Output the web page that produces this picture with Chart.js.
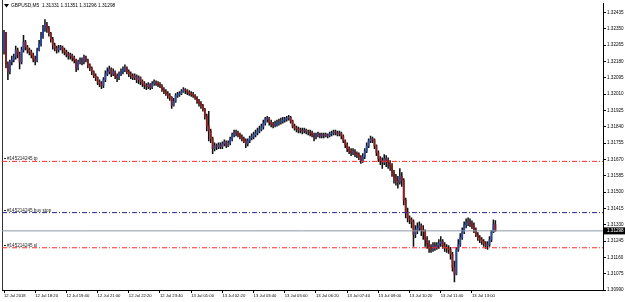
<!DOCTYPE html>
<html>
<head>
<meta charset="utf-8">
<script src="https://cdn.jsdelivr.net/npm/chart.js@4.4.1/dist/chart.umd.min.js"></script>
<style>
  html, body { margin: 0; padding: 0; background: #fff; }
  #chart { display: block; }
</style>
</head>
<body>
<canvas id="chart" width="625" height="302"></canvas>
<script>
// GBPUSD M5, 12 Jul 17:00 -> 13 Jul 14:00
const symbolName = 'GBPUSD,M5';
const lastQuote = ['1.31331', '1.31351', '1.31296', '1.31298'];
const firstOpen = 1.32229;

const closes = [
  1.32332,1.32168,1.32127,1.32178,1.32188,1.32204,1.32240,1.32219,1.32178,1.32240,
  1.32281,1.32255,1.32240,1.32229,1.32214,1.32193,1.32183,1.32240,1.32271,1.32312,
  1.32348,1.32373,1.32353,1.32327,1.32296,1.32265,1.32250,1.32240,1.32250,1.32255,
  1.32240,1.32229,1.32219,1.32209,1.32214,1.32199,1.32188,1.32147,1.32178,1.32188,
  1.32178,1.32204,1.32188,1.32163,1.32147,1.32127,1.32106,1.32096,1.32075,1.32065,
  1.32055,1.32085,1.32116,1.32127,1.32142,1.32116,1.32127,1.32106,1.32096,1.32116,
  1.32127,1.32137,1.32147,1.32127,1.32116,1.32106,1.32096,1.32106,1.32085,1.32096,
  1.32075,1.32065,1.32055,1.32049,1.32060,1.32044,1.32065,1.32075,1.32065,1.32060,
  1.32055,1.32034,1.32024,1.32013,1.32003,1.31993,1.31952,1.31972,1.32003,1.32008,
  1.32013,1.32024,1.32034,1.32029,1.32019,1.32013,1.32008,1.32003,1.31993,1.31972,
  1.31962,1.31952,1.31931,1.31895,1.31844,1.31818,1.31777,1.31726,1.31741,1.31736,
  1.31746,1.31736,1.31751,1.31762,1.31741,1.31757,1.31777,1.31798,1.31813,1.31808,
  1.31798,1.31787,1.31777,1.31767,1.31751,1.31767,1.31782,1.31787,1.31798,1.31808,
  1.31818,1.31828,1.31839,1.31859,1.31880,1.31885,1.31864,1.31854,1.31849,1.31854,
  1.31859,1.31864,1.31870,1.31875,1.31880,1.31885,1.31890,1.31870,1.31844,1.31834,
  1.31828,1.31823,1.31823,1.31818,1.31823,1.31813,1.31813,1.31808,1.31798,1.31787,
  1.31798,1.31803,1.31792,1.31798,1.31792,1.31798,1.31792,1.31803,1.31808,1.31813,
  1.31808,1.31803,1.31808,1.31792,1.31767,1.31746,1.31726,1.31715,1.31705,1.31710,
  1.31700,1.31695,1.31685,1.31664,1.31685,1.31715,1.31741,1.31767,1.31777,1.31772,
  1.31741,1.31705,1.31674,1.31664,1.31654,1.31674,1.31664,1.31654,1.31638,1.31602,
  1.31571,1.31561,1.31551,1.31582,1.31561,1.31458,1.31397,1.31366,1.31356,1.31345,
  1.31279,1.31304,1.31314,1.31325,1.31304,1.31294,1.31253,1.31232,1.31212,1.31201,
  1.31222,1.31212,1.31222,1.31232,1.31242,1.31222,1.31212,1.31207,1.31201,1.31176,
  1.31109,1.31073,1.31201,1.31227,1.31263,1.31294,1.31330,1.31340,1.31345,1.31335,
  1.31325,1.31304,1.31279,1.31263,1.31253,1.31242,1.31232,1.31222,1.31227,1.31253,
  1.31294,1.31331,1.31298
];

const highs = [
  1.32342,1.32332,1.32178,1.32188,1.32209,1.32219,1.32260,1.32250,1.32229,1.32255,
  1.32317,1.32291,1.32265,1.32250,1.32240,1.32224,1.32209,1.32250,1.32291,1.32332,
  1.32368,1.32399,1.32384,1.32363,1.32332,1.32306,1.32276,1.32260,1.32265,1.32265,
  1.32260,1.32250,1.32240,1.32229,1.32224,1.32219,1.32209,1.32193,1.32188,1.32199,
  1.32199,1.32214,1.32209,1.32193,1.32168,1.32152,1.32132,1.32116,1.32101,1.32085,
  1.32075,1.32096,1.32132,1.32147,1.32157,1.32147,1.32142,1.32132,1.32116,1.32127,
  1.32142,1.32152,1.32163,1.32152,1.32137,1.32127,1.32116,1.32116,1.32111,1.32106,
  1.32101,1.32085,1.32075,1.32065,1.32070,1.32065,1.32075,1.32085,1.32080,1.32075,
  1.32070,1.32060,1.32044,1.32034,1.32024,1.32013,1.31998,1.31988,1.32013,1.32019,
  1.32024,1.32034,1.32044,1.32039,1.32034,1.32029,1.32024,1.32019,1.32008,1.31998,
  1.31983,1.31972,1.31957,1.31936,1.31906,1.31921,1.31828,1.31787,1.31757,1.31751,
  1.31757,1.31757,1.31762,1.31772,1.31767,1.31767,1.31787,1.31808,1.31823,1.31823,
  1.31818,1.31808,1.31798,1.31787,1.31777,1.31777,1.31792,1.31803,1.31813,1.31823,
  1.31834,1.31844,1.31854,1.31875,1.31890,1.31895,1.31890,1.31875,1.31864,1.31870,
  1.31875,1.31880,1.31885,1.31890,1.31890,1.31895,1.31900,1.31895,1.31875,1.31854,
  1.31844,1.31839,1.31834,1.31834,1.31834,1.31828,1.31823,1.31823,1.31818,1.31808,
  1.31808,1.31813,1.31808,1.31808,1.31808,1.31808,1.31803,1.31813,1.31818,1.31823,
  1.31823,1.31818,1.31818,1.31813,1.31798,1.31772,1.31757,1.31736,1.31726,1.31726,
  1.31721,1.31710,1.31705,1.31690,1.31700,1.31726,1.31757,1.31777,1.31792,1.31787,
  1.31777,1.31746,1.31715,1.31685,1.31679,1.31695,1.31690,1.31679,1.31664,1.31649,
  1.31613,1.31592,1.31582,1.31623,1.31602,1.31571,1.31469,1.31417,1.31376,1.31366,
  1.31356,1.31325,1.31340,1.31345,1.31335,1.31325,1.31304,1.31268,1.31248,1.31227,
  1.31237,1.31237,1.31237,1.31253,1.31268,1.31253,1.31237,1.31227,1.31222,1.31212,
  1.31186,1.31140,1.31212,1.31253,1.31284,1.31314,1.31345,1.31361,1.31366,1.31361,
  1.31350,1.31340,1.31314,1.31289,1.31273,1.31263,1.31253,1.31242,1.31242,1.31268,
  1.31299,1.31356,1.31351
];

const lows = [
  1.32219,1.32147,1.32085,1.32116,1.32163,1.32178,1.32193,1.32199,1.32142,1.32168,
  1.32229,1.32240,1.32224,1.32214,1.32199,1.32178,1.32163,1.32178,1.32235,1.32260,
  1.32301,1.32337,1.32332,1.32312,1.32281,1.32245,1.32235,1.32224,1.32229,1.32240,
  1.32224,1.32214,1.32204,1.32193,1.32193,1.32183,1.32173,1.32127,1.32137,1.32168,
  1.32163,1.32168,1.32178,1.32147,1.32132,1.32111,1.32096,1.32080,1.32060,1.32049,
  1.32039,1.32044,1.32075,1.32106,1.32116,1.32101,1.32106,1.32091,1.32075,1.32085,
  1.32106,1.32116,1.32127,1.32116,1.32101,1.32091,1.32085,1.32085,1.32070,1.32065,
  1.32060,1.32049,1.32039,1.32034,1.32039,1.32034,1.32039,1.32055,1.32055,1.32049,
  1.32044,1.32024,1.32013,1.32003,1.31988,1.31978,1.31936,1.31947,1.31967,1.31993,
  1.31998,1.32008,1.32019,1.32013,1.32008,1.32003,1.31998,1.31993,1.31983,1.31962,
  1.31947,1.31936,1.31921,1.31880,1.31818,1.31767,1.31757,1.31700,1.31715,1.31721,
  1.31726,1.31726,1.31726,1.31741,1.31731,1.31736,1.31746,1.31767,1.31787,1.31792,
  1.31787,1.31777,1.31767,1.31757,1.31731,1.31741,1.31757,1.31772,1.31777,1.31787,
  1.31798,1.31808,1.31818,1.31828,1.31849,1.31864,1.31849,1.31839,1.31834,1.31839,
  1.31844,1.31849,1.31854,1.31859,1.31864,1.31870,1.31875,1.31859,1.31834,1.31823,
  1.31813,1.31808,1.31808,1.31803,1.31808,1.31803,1.31798,1.31792,1.31787,1.31767,
  1.31777,1.31787,1.31782,1.31782,1.31782,1.31787,1.31782,1.31787,1.31792,1.31798,
  1.31798,1.31792,1.31792,1.31777,1.31757,1.31731,1.31710,1.31700,1.31690,1.31695,
  1.31685,1.31679,1.31669,1.31649,1.31654,1.31674,1.31705,1.31731,1.31757,1.31757,
  1.31726,1.31690,1.31659,1.31643,1.31623,1.31643,1.31633,1.31623,1.31613,1.31582,
  1.31546,1.31536,1.31520,1.31541,1.31530,1.31433,1.31366,1.31345,1.31335,1.31314,
  1.31217,1.31263,1.31284,1.31299,1.31273,1.31253,1.31217,1.31207,1.31186,1.31186,
  1.31191,1.31196,1.31201,1.31207,1.31217,1.31207,1.31191,1.31186,1.31181,1.31150,
  1.31088,1.31032,1.31068,1.31191,1.31217,1.31253,1.31284,1.31314,1.31325,1.31320,
  1.31309,1.31289,1.31268,1.31248,1.31237,1.31227,1.31217,1.31207,1.31201,1.31217,
  1.31242,1.31289,1.31296
];

// one label every 16 bars (80 min)
const timeLabels = [
  '12 Jul 2018', '12 Jul 18:20', '12 Jul 19:40', '12 Jul 21:00', '12 Jul 22:20',
  '12 Jul 23:40', '13 Jul 01:00', '13 Jul 02:20', '13 Jul 03:40', '13 Jul 05:00',
  '13 Jul 06:20', '13 Jul 07:40', '13 Jul 09:00', '13 Jul 10:20', '13 Jul 11:40',
  '13 Jul 13:00'
];
const barsPerLabel = 16;

const priceTicks = [
  1.32435, 1.32350, 1.32265, 1.32180, 1.32095, 1.32010, 1.31925, 1.31840, 1.31755,
  1.31670, 1.31585, 1.31500, 1.31415, 1.31330, 1.31245, 1.31160, 1.31075, 1.30990
];

const orderNames = ['#145214245 tp', '#145214245 buy stop', '#145214245 sl'];
const orderPrices = [1.31660, 1.31393, 1.31210];
const orderColors = ['#ff2a2a', '#23238c', '#ff2a2a'];
const bidPrice = 1.31298;

const xMin = -1.03;
const xMax = 307.2;
const yMin = 1.30990;
const yMax = 1.32481;

const opens = closes.map((c, i) => (i === 0 ? firstOpen : closes[i - 1]));

const wickData = closes.map((c, i) => ({ x: i, y: [lows[i], highs[i]] }));
const bodyData = closes.map((c, i) => ({ x: i, y: [Math.min(opens[i], c), Math.max(opens[i], c)] }));
const bodyColors = closes.map((c, i) => (c >= opens[i] ? '#2b4a9e' : '#8e1c1c'));

const levelSets = orderPrices.map((p, k) => ({
  type: 'line',
  data: [{ x: xMin, y: p }, { x: xMax, y: p }],
  borderColor: orderColors[k],
  borderWidth: 1,
  borderDash: [5, 2, 1, 2],
  pointRadius: 0,
  order: 0
}));

const overlay = {
  id: 'overlay',
  beforeDatasetsDraw(chart) {
    const { ctx, chartArea } = chart;
    ctx.save();
    ctx.strokeStyle = '#333';
    ctx.lineWidth = 1;
    ctx.beginPath();
    ctx.moveTo(chartArea.left + 0.5, 0);
    ctx.lineTo(chartArea.left + 0.5, chartArea.bottom);
    ctx.stroke();
    ctx.restore();
  },
  afterDraw(chart) {
    const { ctx, chartArea, scales } = chart;
    const y = scales.y;
    ctx.save();
    // header
    ctx.fillStyle = '#000';
    ctx.beginPath();
    ctx.moveTo(4, 4); ctx.lineTo(9, 4); ctx.lineTo(6.5, 7.5); ctx.closePath();
    ctx.fill();
    ctx.font = '4.8px "Liberation Sans", Arial, sans-serif';
    ctx.textBaseline = 'middle';
    ctx.fillText(symbolName + '  ' + lastQuote.join(' '), 11, 6);

    // order labels
    ctx.font = '4.6px "Liberation Sans", Arial, sans-serif';
    orderNames.forEach((name, k) => {
      const py = y.getPixelForValue(orderPrices[k]);
      ctx.fillStyle = '#222';
      ctx.fillRect(chartArea.left + 2, Math.round(py) - 3, 2, 1);
      ctx.textBaseline = 'alphabetic';
      ctx.fillText(name, chartArea.left + 5, py - 1);
    });

    // bid price box
    const by = y.getPixelForValue(bidPrice);
    ctx.fillStyle = '#000';
    ctx.fillRect(chartArea.right + 1, by - 3.5, 22, 7);
    ctx.fillStyle = '#fff';
    ctx.textBaseline = 'middle';
    ctx.fillText(bidPrice.toFixed(5), chartArea.right + 4, by + 0.3);
    ctx.restore();
  }
};

new Chart(document.getElementById('chart'), {
  type: 'bar',
  data: {
    datasets: [
      ...levelSets,
      {
        type: 'line',
        data: [{ x: xMin, y: bidPrice }, { x: xMax, y: bidPrice }],
        borderColor: '#8c99a8',
        borderWidth: 1,
        pointRadius: 0,
        order: 0
      },
      {
        data: bodyData,
        backgroundColor: bodyColors,
        barThickness: 1.2,
        stack: 'c',
        order: 1
      },
      {
        data: wickData,
        backgroundColor: '#111',
        barThickness: 0.9,
        stack: 'c',
        order: 2
      }
    ]
  },
  options: {
    responsive: false,
    animation: false,
    devicePixelRatio: 1,
    layout: { padding: { left: 2, top: 1, right: 0, bottom: 0 } },
    plugins: { legend: { display: false }, tooltip: { enabled: false } },
    scales: {
      x: {
        type: 'linear',
        min: xMin,
        max: xMax,
        offset: false,
        afterBuildTicks: (s) => { s.ticks = timeLabels.map((_, k) => ({ value: k * barsPerLabel })); },
        afterFit: (s) => { s.height = 12; },
        ticks: {
          autoSkip: false,
          maxRotation: 0,
          minRotation: 0,
          align: 'start',
          padding: 0,
          color: '#000',
          font: { family: 'Liberation Sans', size: 4.2 },
          callback: (v, i) => timeLabels[i]
        },
        grid: { display: true, drawOnChartArea: false, tickLength: 3, color: '#000', offset: false },
        border: { color: '#000' }
      },
      y: {
        position: 'right',
        min: yMin,
        max: yMax,
        stacked: false,
        afterBuildTicks: (s) => { s.ticks = priceTicks.map(v => ({ value: v })); },
        afterFit: (s) => { s.width = 22; },
        ticks: {
          padding: 1,
          color: '#000',
          font: { family: 'Liberation Sans', size: 4.6 },
          callback: (v) => v.toFixed(5)
        },
        grid: { display: true, drawOnChartArea: false, tickLength: 3, color: '#000' },
        border: { color: '#000' }
      }
    }
  },
  plugins: [overlay]
});
</script>
</body>
</html>
